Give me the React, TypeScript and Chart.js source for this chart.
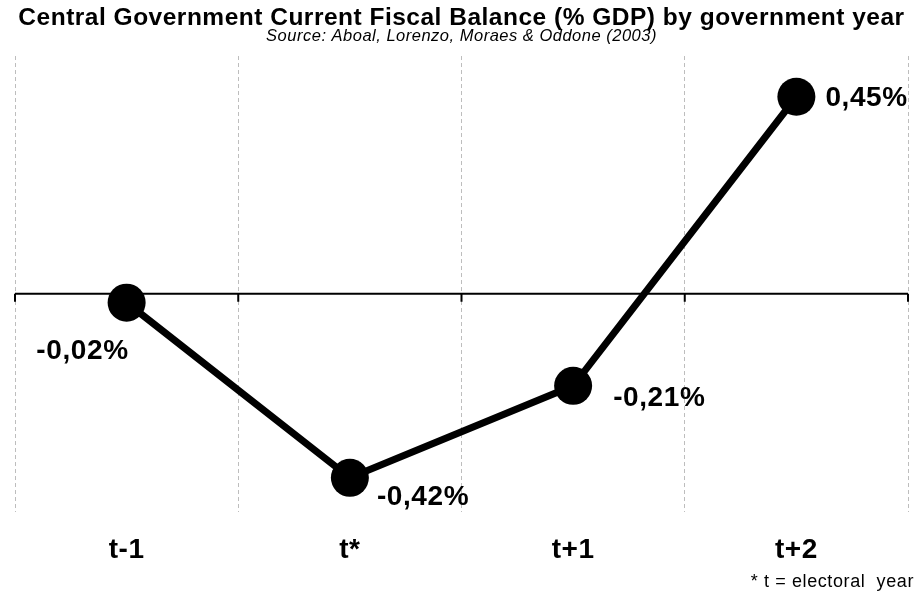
import React, { useEffect, useRef } from "react";
import { Chart, registerables } from "chart.js";

Chart.register(...registerables);

const categories = ["t-1", "t*", "t+1", "t+2"];
const balance = [-0.02, -0.42, -0.21, 0.45];
const valueLabels = ["-0,02%", "-0,42%", "-0,21%", "0,45%"];
const titleText = "Central Government Current Fiscal Balance (% GDP) by government year";
const subtitleText = "Source: Aboal, Lorenzo, Moraes & Oddone (2003)";
const footnoteText = "* t = electoral  year";

const FONT = "'Liberation Sans', Arial, Helvetica, sans-serif";

// label placement relative to each point (style only)
const labelPlacement = [
  { dx: 2, dy: 49, align: "right" },
  { dx: 27, dy: 19, align: "left" },
  { dx: 40, dy: 12, align: "left" },
  { dx: 29, dy: 2, align: "left" },
];

const spacingPlugin = {
  id: "spacing",
  beforeDraw(chart: any) {
    (chart.ctx as any).letterSpacing = "0.5px";
  },
};

const zeroLinePlugin = {
  id: "zeroLine",
  beforeDatasetsDraw(chart: any) {
    const { ctx, chartArea, scales } = chart;
    const y = scales.y.getPixelForValue(0);
    ctx.save();
    ctx.strokeStyle = "#000";
    ctx.lineWidth = 2;
    ctx.beginPath();
    ctx.moveTo(chartArea.left, y);
    ctx.lineTo(chartArea.right, y);
    const n = categories.length;
    const step = (chartArea.right - chartArea.left) / n;
    for (let i = 0; i <= n; i++) {
      const x = chartArea.left + i * step;
      ctx.moveTo(x, y);
      ctx.lineTo(x, y + 8);
    }
    ctx.stroke();
    ctx.restore();
  },
};

const valueLabelPlugin = {
  id: "valueLabels",
  afterDatasetsDraw(chart: any) {
    const { ctx } = chart;
    const meta = chart.getDatasetMeta(0);
    ctx.save();
    ctx.letterSpacing = "0.6px";
    ctx.fillStyle = "#000";
    ctx.font = `bold 28px ${FONT}`;
    ctx.textBaseline = "middle";
    meta.data.forEach((pt: any, i: number) => {
      const p = labelPlacement[i];
      ctx.textAlign = p.align;
      ctx.fillText(valueLabels[i], pt.x + p.dx, pt.y + p.dy);
    });
    ctx.restore();
  },
};

const footnotePlugin = {
  id: "footnote",
  afterDraw(chart: any) {
    const { ctx, width, height } = chart;
    ctx.save();
    ctx.letterSpacing = "0.6px";
    ctx.fillStyle = "#000";
    ctx.font = `18px ${FONT}`;
    ctx.textAlign = "right";
    ctx.textBaseline = "alphabetic";
    ctx.fillText(footnoteText, width - 3, height - 11);
    ctx.restore();
  },
};

export default function App() {
  const canvasRef = useRef<HTMLCanvasElement | null>(null);

  useEffect(() => {
    if (!canvasRef.current) return;
    const chart = new Chart(canvasRef.current, {
      type: "line",
      data: {
        labels: categories,
        datasets: [
          {
            data: balance,
            borderColor: "#000",
            borderWidth: 7,
            pointRadius: 19,
            pointHoverRadius: 19,
            pointBackgroundColor: "#000",
            pointBorderColor: "#000",
            pointBorderWidth: 0,
            tension: 0,
            clip: false as any,
          },
        ],
      },
      options: {
        animation: false,
        responsive: true,
        maintainAspectRatio: false,
        layout: {
          autoPadding: false,
          padding: { left: 15, right: 9, top: 0, bottom: 10 },
        },
        plugins: {
          legend: { display: false },
          tooltip: { enabled: false },
          title: {
            display: true,
            text: titleText,
            color: "#000",
            font: { family: FONT, size: 24.5, weight: "bold", lineHeight: 1 },
            padding: { top: 5.5, bottom: 0 },
          },
          subtitle: {
            display: true,
            text: subtitleText,
            color: "#000",
            font: { family: FONT, size: 16.5, style: "italic", lineHeight: 0.45 },
            padding: { top: 3.1, bottom: 15.5 },
          },
        },
        scales: {
          x: {
            type: "category",
            offset: true,
            grid: {
              offset: true,
              drawTicks: false,
              color: "#bdbdbd",
              lineWidth: 1,
            },
            border: { display: false, dash: [4, 3] },
            ticks: {
              color: "#000",
              padding: 21.2,
              font: { family: FONT, size: 28, weight: "bold" },
            },
          },
          y: {
            display: false,
            min: -0.498,
            max: 0.543,
          },
        },
      },
      plugins: [spacingPlugin, zeroLinePlugin, valueLabelPlugin, footnotePlugin],
    });
    return () => chart.destroy();
  }, []);

  return (
    <div
      style={{
        position: "fixed",
        left: 0,
        top: 0,
        width: 917,
        height: 598,
        background: "#fff",
      }}
    >
      <canvas ref={canvasRef} />
    </div>
  );
}
